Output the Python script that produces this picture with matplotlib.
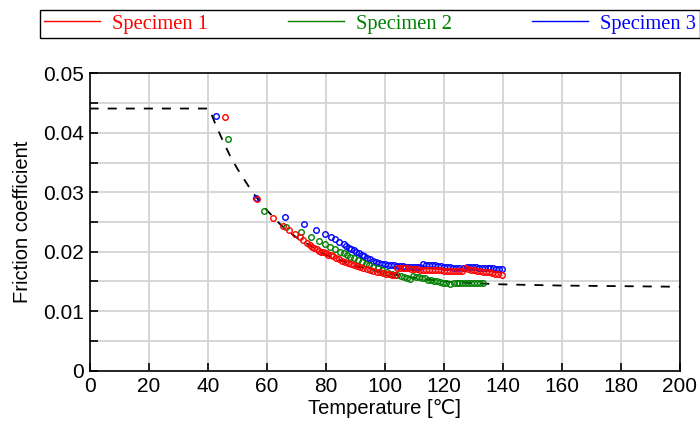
import matplotlib
matplotlib.use("Agg")
import matplotlib.pyplot as plt
from matplotlib.ticker import MultipleLocator, FuncFormatter

plt.rcParams['font.family'] = ['Liberation Sans', 'DejaVu Sans']

# dashed fit curve
fit_t = [0, 40.5, 42.5, 45, 47.5, 50, 55, 60, 65, 70, 80, 90, 100, 110, 120, 130, 140, 150, 160, 180, 200]
fit_mu = [0.0441, 0.0441, 0.0416, 0.0388, 0.0362, 0.0340, 0.0301, 0.0270, 0.0244, 0.0224, 0.0195,
          0.0176, 0.0164, 0.0156, 0.0150, 0.0147, 0.0145, 0.0144, 0.0143, 0.0142, 0.0141]

# Specimen 1 (red)
t1 = [45.9, 56.8, 62.2, 65.6, 67.7, 69.6, 71.1, 72.4, 73.6, 74.5, 75.3, 76.1, 76.9, 77.7, 78.5, 79.2,
      80.0, 80.8, 81.7, 82.6, 83.5, 84.5, 85.5, 86.5, 87.5, 88.5, 89.5, 90.5, 91.6, 92.7, 93.8, 95.0,
      96.1, 97.2, 98.4, 99.5, 100.5, 101.5, 102.5, 103.5,
      104.1, 105.0, 106.0, 107.0, 108.0, 109.0, 110.0, 111.0, 112.0, 113.1, 114.0, 115.0, 116.0, 117.0,
      118.0, 119.0, 120.0, 121.0, 122.0, 123.0, 124.0, 125.0, 126.1,
      127.2, 128.2, 129.2, 130.2, 131.2, 132.2, 133.2, 134.2, 135.2, 136.2, 137.2, 138.2, 139.7]
mu1 = [0.0426, 0.0288, 0.0256, 0.0243, 0.0236, 0.0230, 0.0224, 0.0219, 0.0214, 0.0211, 0.0208, 0.0206,
       0.0204, 0.0202, 0.0200, 0.0199, 0.0197, 0.0195, 0.0194, 0.0192, 0.0190, 0.0188, 0.0185, 0.0183,
       0.0181, 0.0180, 0.0178, 0.0176, 0.0175, 0.0173, 0.0171, 0.0169, 0.0168, 0.0166, 0.0165, 0.0164,
       0.0163, 0.0162, 0.0161, 0.0160,
       0.0173, 0.0173, 0.0172, 0.0172, 0.0172, 0.0171, 0.0171, 0.0171, 0.0170, 0.0170, 0.0170, 0.0170,
       0.0169, 0.0169, 0.0169, 0.0169, 0.0168, 0.0168, 0.0168, 0.0168, 0.0168, 0.0167, 0.0167,
       0.0172, 0.0171, 0.0170, 0.0169, 0.0168, 0.0167, 0.0166, 0.0166, 0.0165, 0.0164, 0.0163, 0.0162, 0.0161]

# Specimen 2 (green)
t2 = [46.7, 58.9, 66.5, 71.6, 75.0, 77.8, 79.8, 81.5, 83.2, 84.8, 86.0, 87.1, 88.3, 89.4, 90.8, 92.2,
      93.5, 94.8, 96.1, 97.6, 99.1, 100.7, 102.4, 104.1, 105.5, 106.5, 107.5, 108.6,
      109.7, 110.7, 111.7, 112.7, 113.7, 114.7, 115.7, 116.7, 117.7, 118.7, 119.7, 120.7, 122.1,
      123.3, 124.3, 125.3, 126.3, 127.3, 128.3, 129.3, 130.3, 131.3, 132.3, 133.4]
mu2 = [0.0389, 0.0269, 0.0242, 0.0233, 0.0224, 0.0218, 0.0213, 0.0208, 0.0204, 0.0200, 0.0197, 0.0194,
       0.0191, 0.0189, 0.0186, 0.0183, 0.0180, 0.0177, 0.0175, 0.0172, 0.0169, 0.0166, 0.0163, 0.0161,
       0.0159, 0.0157, 0.0155, 0.0154,
       0.0159, 0.0158, 0.0157, 0.0156, 0.0155, 0.0153, 0.0152, 0.0151, 0.0150, 0.0149, 0.0148, 0.0147, 0.0146,
       0.0148, 0.0148, 0.0148, 0.0148, 0.0147, 0.0147, 0.0147, 0.0147, 0.0147, 0.0147, 0.0147]

# Specimen 3 (blue)
t3 = [42.8, 56.4, 66.2, 72.6, 76.7, 79.7, 81.7, 83.2, 84.6, 86.0, 87.0, 87.9, 88.7, 89.5, 90.4, 91.3,
      92.2, 93.1, 94.0, 95.0, 96.0, 97.0, 98.0, 99.0, 100.0, 101.0, 102.0, 103.0, 104.0, 105.0, 106.0,
      107.0, 108.0, 109.0, 110.0, 111.0, 112.0,
      113.1, 114.1, 115.1, 116.1, 117.1, 118.1, 119.1, 120.1, 121.1, 122.1, 123.1, 124.1, 125.1, 126.6,
      127.8, 128.8, 129.8, 130.8, 131.8, 132.8, 133.8, 134.8, 135.8, 136.8, 137.8, 138.8, 139.7]
mu3 = [0.0429, 0.0291, 0.0258, 0.0246, 0.0237, 0.0230, 0.0225, 0.0221, 0.0217, 0.0213, 0.0210, 0.0207,
       0.0205, 0.0203, 0.0200, 0.0197, 0.0195, 0.0192, 0.0190, 0.0187, 0.0185, 0.0183, 0.0181, 0.0180,
       0.0179, 0.0178, 0.0177, 0.0177, 0.0176, 0.0176, 0.0176, 0.0175, 0.0175, 0.0175, 0.0175, 0.0175, 0.0175,
       0.0179, 0.0178, 0.0178, 0.0177, 0.0177, 0.0176, 0.0176, 0.0175, 0.0174, 0.0174, 0.0173, 0.0173,
       0.0172, 0.0172,
       0.0175, 0.0175, 0.0174, 0.0174, 0.0173, 0.0173, 0.0173, 0.0172, 0.0172, 0.0172, 0.0171, 0.0171, 0.0171]

labels = ['Specimen 1', 'Specimen 2', 'Specimen 3']
colors = ['#ff0000', '#008000', '#0000ff']

fig = plt.figure(figsize=(7, 4.28), dpi=100)
ax = fig.add_axes([0.1281, 0.1343, 0.8433, 0.694])

ax.set_xlim(0, 200)
ax.set_ylim(0, 0.05)
ax.xaxis.set_major_locator(MultipleLocator(20))
ax.yaxis.set_major_locator(MultipleLocator(0.01))
ax.yaxis.set_minor_locator(MultipleLocator(0.005))
ax.yaxis.set_major_formatter(FuncFormatter(lambda v, p: '0' if abs(v) < 1e-9 else '%.2f' % v))

ax.grid(True, which='major', color='#d4d4d4', lw=1.3)
ax.grid(True, which='minor', axis='y', color='#d4d4d4', lw=1.3)
ax.set_axisbelow(True)
ax.tick_params(which='both', direction='in', length=6, width=1.2, labelsize=15,
               top=False, right=False)
ax.tick_params(axis='y', pad=4)
ax.tick_params(axis='x', pad=5)
for s in ax.spines.values():
    s.set_linewidth(1.2)

ax.plot(fit_t, fit_mu, color='black', lw=1.3, ls=(0, (5, 5)), zorder=2)

for t, mu, c in [(t3, mu3, colors[2]), (t2, mu2, colors[1]), (t1, mu1, colors[0])]:
    ax.plot(t, mu, ls='none', marker='o', ms=4.0, mfc='none', mec=c, mew=1.0, zorder=3)

# legend entries drawn as plain lines
leg_lines = [plt.Line2D([], [], color=c, lw=1) for c in colors]
fig.legend(leg_lines, labels, loc='upper left', bbox_to_anchor=(40 / 700, 1 - 10 / 428),
           ncol=3, frameon=True, fancybox=False, edgecolor='black', framealpha=1,
           prop={'family': 'Liberation Serif', 'size': 14.8}, labelcolor='linecolor',
           handlelength=2.7, handletextpad=0.6, columnspacing=3.9, borderpad=0.2,
           borderaxespad=0)

ax.set_xlabel('Temperature [℃]', fontsize=14.5, labelpad=2)
ax.set_ylabel('Friction coefficient', fontsize=14.5, labelpad=8)

plt.savefig('out.png', dpi=100)
